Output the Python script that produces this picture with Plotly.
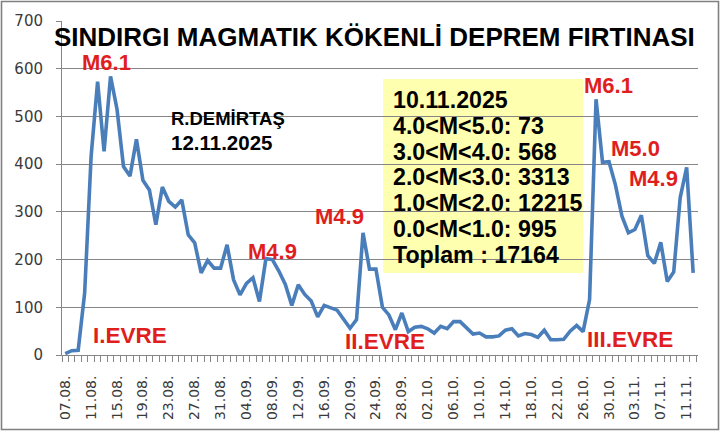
import plotly.graph_objects as go

# ---------------- data ----------------
day_labels = [
    "07.08.", "11.08.", "15.08.", "19.08.", "23.08.", "27.08.", "31.08.",
    "04.09.", "08.09.", "12.09.", "16.09.", "20.09.", "24.09.", "28.09.",
    "02.10.", "06.10.", "10.10.", "14.10.", "18.10.", "22.10.", "26.10.",
    "30.10.", "03.11.", "07.11.", "11.11.",
]
# daily earthquake counts, 07.08.2025 ... 12.11.2025
counts = [
    3, 9, 10, 130, 417, 573, 427, 584, 515, 395,
    375, 452, 366, 346, 273, 352, 322, 310, 325, 252,
    235, 172, 198, 182, 182, 231, 158, 126, 150, 162,
    112, 202, 200, 176, 148, 104, 147, 127, 113, 80,
    104, 98, 94, 75, 56, 74, 256, 180, 180, 100,
    84, 53, 88, 49, 58, 60, 55, 46, 60, 55,
    70, 70, 58, 44, 46, 38, 38, 40, 52, 55,
    40, 45, 43, 37, 52, 32, 32, 33, 50, 62,
    49, 116, 536, 404, 405, 356, 291, 256, 263, 293,
    208, 192, 236, 154, 174, 330, 393, 172,
]
box_lines = [
    "10.11.2025",
    "4.0<M<5.0: 73",
    "3.0<M<4.0: 568",
    "2.0<M<3.0: 3313",
    "1.0<M<2.0: 12215",
    "0.0<M<1.0: 995",
    "Toplam : 17164",
]

# ---------------- layout geometry ----------------
W, H = 720, 433
L, R, T, B = 62, 698, 21, 355
XR = [-0.5, 97.75]
YR = [0, 700]

def px2x(px):
    return (px - L) / (R - L) * (XR[1] - XR[0]) + XR[0]

def py2y(py):
    return (B - py) / (B - T) * (YR[1] - YR[0]) + YR[0]

def ppx(px):
    return (px - L) / (R - L)

def ppy(py):
    return (B - py) / (B - T)

x_idx = list(range(len(counts)))
tick_idx = list(range(0, len(counts), 4))[:len(day_labels)]

fig = go.Figure()
fig.add_trace(go.Scatter(
    x=x_idx, y=counts, mode="lines",
    line=dict(color="#4A7EBB", width=3.6),
    hoverinfo="skip", showlegend=False,
))

RED = "#E01E1E"
BOLD = "Liberation Sans"

annotations = []

def label(text, px, py, size, color=RED, xanchor="center"):
    annotations.append(dict(
        text=text, x=px2x(px), y=py2y(py), xref="x", yref="y",
        showarrow=False, xanchor=xanchor, yanchor="middle",
        font=dict(family=BOLD, size=size, color=color, weight="bold"),
    ))

# title
label("SINDIRGI MAGMATIK KÖKENLİ DEPREM FIRTINASI", 374, 37, 26, color="#000000")
# author / date
label("R.DEMİRTAŞ", 169, 118, 18.5, color="#000000", xanchor="left")
label("12.11.2025", 169, 142, 20.5, color="#000000", xanchor="left")
# magnitude labels
label("M6.1", 106, 62, 22)
label("M4.9", 272, 251, 22)
label("M4.9", 339, 216, 22)
label("M6.1", 608, 85, 22)
label("M5.0", 635, 148, 22)
label("M4.9", 653, 178, 22)
# phase labels
label("I.EVRE", 130, 335, 22.5)
label("II.EVRE", 385, 341, 22.5)
label("III.EVRE", 630, 339, 22.5)

# info box lines
for k, t in enumerate(box_lines):
    label(t, 391, 100 + k * 25.8, 23.2, color="#000000", xanchor="left")

shapes = [
    # yellow info box
    dict(type="rect", xref="paper", yref="paper",
         x0=ppx(383), x1=ppx(583), y0=ppy(273), y1=ppy(79),
         fillcolor="#FFFFB0", line=dict(width=0), layer="below"),
    # outer frame
    dict(type="rect", xref="paper", yref="paper",
         x0=ppx(1.5), x1=ppx(718.5), y0=ppy(429.5), y1=ppy(1.5),
         fillcolor="rgba(0,0,0,0)", line=dict(color="#808080", width=1.6)),
]

fig.update_layout(
    width=W, height=H,
    margin=dict(l=L, r=W - R, t=T, b=H - B, pad=0, autoexpand=False),
    paper_bgcolor="white", plot_bgcolor="white",
    showlegend=False,
    annotations=annotations,
    shapes=shapes,
    xaxis=dict(
        range=XR, tickmode="array", tickvals=tick_idx, ticktext=day_labels,
        tickangle=-90, ticks="", showgrid=False, zeroline=False,
        showline=True, linecolor="#868686", linewidth=1,
        tickfont=dict(family="DejaVu Sans", size=14, color="#3A3A3A"),
        minor=dict(tickmode="linear", tick0=-0.5, dtick=1, ticks="outside",
                   ticklen=6, tickcolor="#868686", tickwidth=1, showgrid=False),
        ticklabelstandoff=14,
        automargin=False,
        fixedrange=True,
    ),
    yaxis=dict(
        range=YR, tickmode="linear", tick0=0, dtick=100,
        ticks="outside", ticklen=5, tickcolor="#868686",
        showgrid=True, gridcolor="#868686", gridwidth=1,
        zeroline=False, showline=True, linecolor="#868686", linewidth=1,
        tickfont=dict(family="DejaVu Sans", size=15, color="#3A3A3A"),
        ticklabelstandoff=10,
        automargin=False,
        fixedrange=True,
    ),
)

fig.write_html(
    "out.html",
    config={"displayModeBar": False, "staticPlot": True},
    post_script="document.body.style.margin='0';document.body.style.overflow='hidden';",
)
